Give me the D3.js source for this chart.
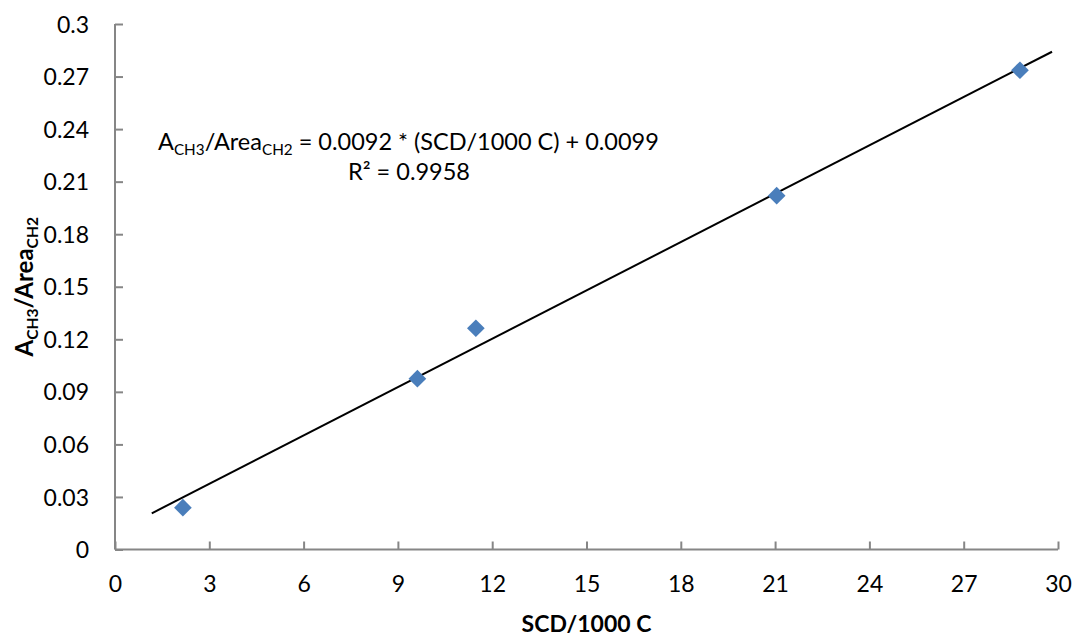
<!DOCTYPE html>
<html>
<head>
<meta charset="utf-8">
<script src="https://cdn.jsdelivr.net/npm/d3@7"></script>
<style>
  html, body { margin: 0; padding: 0; background: #fff; }
  svg text { font-family: Lato, "Open Sans", sans-serif; fill: #000; }
</style>
</head>
<body>
<svg id="chart" width="1076" height="637"></svg>
<script>
// Measured samples: SCD per 1000 C vs CH3/CH2 area ratio
const scd = [2.16, 9.62, 11.48, 21.05, 28.79];
const areaRatio = [0.0239, 0.0975, 0.1263, 0.2020, 0.2736];

// Linear fit reported on the chart
const fitSlope = 0.0092;
const fitIntercept = 0.0099;
const fitR2 = 0.9958;
const fitRange = [1.17, 29.81];

const xTicks = [0, 3, 6, 9, 12, 15, 18, 21, 24, 27, 30];
const yTicks = [0, 0.03, 0.06, 0.09, 0.12, 0.15, 0.18, 0.21, 0.24, 0.27, 0.3];

const svg = d3.select("#chart");
const margin = { left: 115, right: 18, top: 24, bottom: 87.5 };
const W = 1076, H = 637;

const x = d3.scaleLinear().domain([0, 30]).range([margin.left, W - margin.right]);
const y = d3.scaleLinear().domain([0, 0.3]).range([H - margin.bottom, margin.top]);

const axisColor = "#868686";
const fontSize = 23;

// Y axis (ticks point into the plot)
const yAxis = svg.append("g")
  .attr("transform", `translate(${x(0)},0)`)
  .call(d3.axisRight(y).tickValues(yTicks).tickSize(8).tickFormat(d => d3.format("")(+d.toFixed(2))));
yAxis.select(".domain").attr("stroke", axisColor).attr("stroke-width", 2).attr("d", `M0,${y(0)}V${y(0.3)}`);
yAxis.selectAll(".tick line").attr("stroke", axisColor).attr("stroke-width", 2);
yAxis.selectAll(".tick text")
  .attr("x", -26).attr("text-anchor", "end").attr("dy", "0.35em")
  .attr("font-size", fontSize).attr("fill", "#000").attr("font-family", "Lato, sans-serif");

// X axis
const xAxis = svg.append("g")
  .attr("transform", `translate(0,${y(0)})`)
  .call(d3.axisTop(x).tickValues(xTicks).tickSize(8).tickFormat(d3.format("d")));
xAxis.select(".domain").attr("stroke", axisColor).attr("stroke-width", 2).attr("d", `M${x(0)},0H${x(30)}`);
xAxis.selectAll(".tick line").attr("stroke", axisColor).attr("stroke-width", 2);
xAxis.selectAll(".tick text")
  .attr("y", 34).attr("dy", "0.35em").attr("text-anchor", "middle")
  .attr("font-size", fontSize).attr("fill", "#000").attr("font-family", "Lato, sans-serif");

// Trendline from the reported equation
svg.append("line")
  .attr("x1", x(fitRange[0])).attr("y1", y(fitSlope * fitRange[0] + fitIntercept))
  .attr("x2", x(fitRange[1])).attr("y2", y(fitSlope * fitRange[1] + fitIntercept))
  .attr("stroke", "#000").attr("stroke-width", 2);

// Data markers (diamonds)
const diamond = d3.symbol().type(d3.symbolDiamond2).size(200);
svg.append("g").selectAll("path")
  .data(scd.map((v, i) => [v, areaRatio[i]]))
  .join("path")
  .attr("d", diamond)
  .attr("transform", d => `translate(${x(d[0])},${y(d[1])})`)
  .attr("fill", "#4a7ebb");

// helper: text with subscripts (shift down for a subscript, back up after it)
function richText(sel, parts, size) {
  const shift = size * 0.22;
  let lowered = false;
  parts.forEach(p => {
    const ts = sel.append("tspan").text(p.t);
    if (p.sub) {
      ts.attr("font-size", size * 0.65);
      if (!lowered) ts.attr("dy", shift);
      lowered = true;
    } else {
      ts.attr("font-size", size);
      if (lowered) ts.attr("dy", -shift);
      lowered = false;
    }
  });
}

// Equation label
const eqSize = 23.5;
const eq = svg.append("text").attr("x", 158).attr("y", 150).attr("font-size", eqSize);
richText(eq, [
  { t: "A" }, { t: "CH3", sub: true }, { t: "/Area" }, { t: "CH2", sub: true },
  { t: ` = ${fitSlope.toFixed(4)} * (SCD/1000 C) + ${fitIntercept.toFixed(4)}` }
], eqSize);

svg.append("text").attr("x", 409).attr("y", 180).attr("text-anchor", "middle")
  .attr("font-size", eqSize).text(`R\u00B2 = ${fitR2.toFixed(4)}`);

// Axis titles
svg.append("text").attr("x", (x(0) + x(30)) / 2).attr("y", 632)
  .attr("text-anchor", "middle").attr("font-size", fontSize).attr("font-weight", "bold")
  .text("SCD/1000 C");

const yt = svg.append("text")
  .attr("transform", `translate(33,${y(0.15)}) rotate(-90)`)
  .attr("text-anchor", "middle").attr("font-weight", "bold").attr("font-size", 24);
richText(yt, [{ t: "A" }, { t: "CH3", sub: true }, { t: "/Area" }, { t: "CH2", sub: true }], 24);
</script>
</body>
</html>
